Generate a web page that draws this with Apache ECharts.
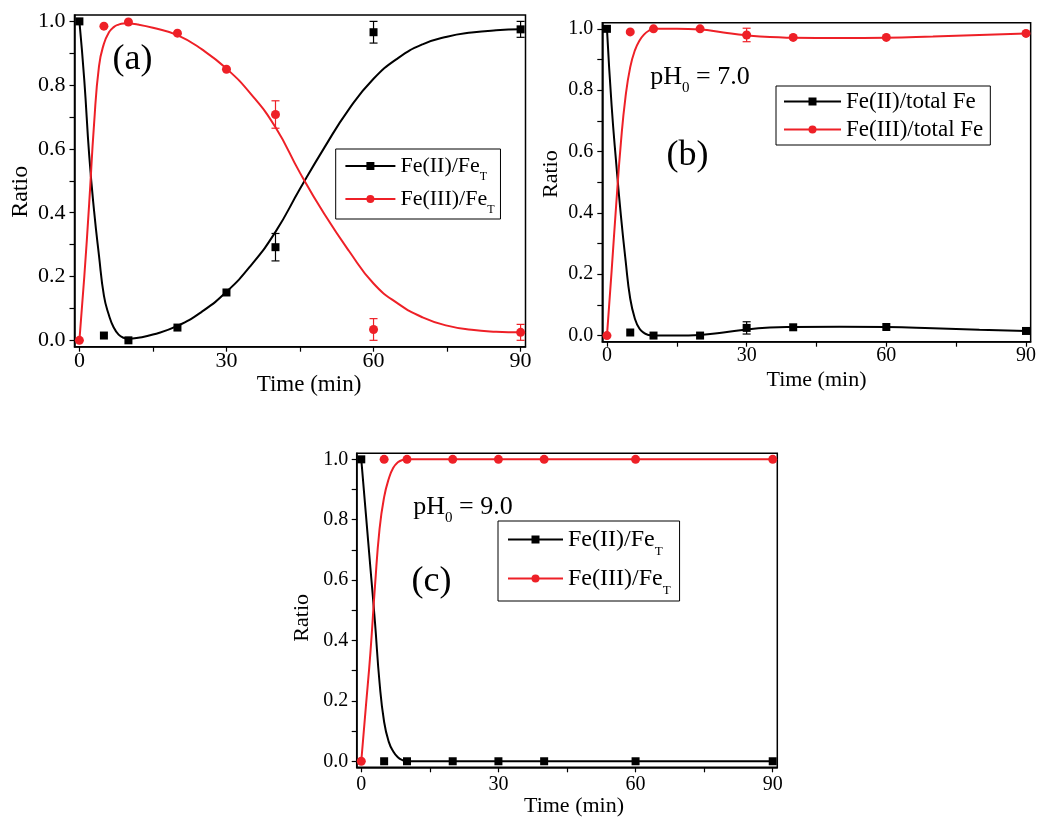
<!DOCTYPE html>
<html><head><meta charset="utf-8">
<script src="https://cdn.jsdelivr.net/npm/echarts@6/dist/echarts.min.js"></script>
<style>html,body{margin:0;padding:0;background:#fff}#c{width:1039px;height:819px}</style>
</head><body><div id="c"></div>
<script>
// ---------------- data ----------------
const xTickValues = [0, 15, 30, 45, 60, 75, 90];
const xLabelValues = [0, 30, 60, 90];
const yTickValues = [0, 0.1, 0.2, 0.3, 0.4, 0.5, 0.6, 0.7, 0.8, 0.9, 1.0];
const yLabelValues = [0, 0.2, 0.4, 0.6, 0.8, 1.0];

// panel (a)
const timeA = [0, 5, 10, 20, 30, 40, 60, 90];
const fe2A = [1.0, 0.015, 0.0, 0.04, 0.15, 0.292, 0.966, 0.975];
const fe2ErrA = [0, 0, 0, 0, 0, 0.043, 0.034, 0.025];
const fe3A = [0.0, 0.985, 0.998, 0.963, 0.85, 0.708, 0.034, 0.025];
const fe3ErrA = [0, 0, 0, 0, 0, 0.043, 0.034, 0.025];
const fitTimeA = [0, 1, 2, 3, 4, 5, 6, 7, 8, 9, 10, 12, 15, 20, 25, 30, 35, 40, 45, 50, 55, 60, 65, 70, 75, 80, 85, 90];
const fitFe2A = [1.0, 0.815, 0.58, 0.405, 0.265, 0.14, 0.08, 0.04, 0.018, 0.008, 0.005, 0.008, 0.018, 0.045, 0.09, 0.152, 0.235, 0.34, 0.475, 0.605, 0.725, 0.82, 0.885, 0.928, 0.952, 0.965, 0.972, 0.975];
const fitFe3A = [0.0, 0.2, 0.43, 0.68, 0.86, 0.93, 0.965, 0.982, 0.99, 0.993, 0.993, 0.99, 0.98, 0.957, 0.912, 0.852, 0.772, 0.668, 0.525, 0.395, 0.28, 0.178, 0.115, 0.072, 0.046, 0.033, 0.027, 0.025];

// panel (b)
const timeB = [0, 5, 10, 20, 30, 40, 60, 90];
const fe2B = [1.0, 0.01, 0.0, 0.0, 0.025, 0.027, 0.028, 0.015];
const fe2ErrB = [0, 0, 0, 0, 0.02, 0, 0, 0];
const fe3B = [0.0, 0.99, 1.0, 1.0, 0.98, 0.972, 0.972, 0.985];
const fe3ErrB = [0, 0, 0, 0, 0.022, 0, 0, 0];
const fitTimeB = [0, 1, 2, 3, 4, 5, 6, 7, 8, 9, 10, 15, 20, 25, 30, 35, 40, 50, 60, 70, 80, 90];
const fitFe2B = [1.0, 0.75, 0.56, 0.39, 0.245, 0.12, 0.055, 0.022, 0.008, 0.002, 0.0, 0.0, 0.002, 0.01, 0.02, 0.026, 0.028, 0.029, 0.028, 0.024, 0.019, 0.015];
const fitFe3B = [0.0, 0.21, 0.43, 0.63, 0.78, 0.875, 0.93, 0.962, 0.982, 0.994, 1.0, 1.0, 0.998, 0.988, 0.979, 0.973, 0.971, 0.97, 0.971, 0.975, 0.98, 0.985];

// panel (c)
const timeC = [0, 5, 10, 20, 30, 40, 60, 90];
const fe2C = [1.0, 0.0, 0.0, 0.0, 0.0, 0.0, 0.0, 0.0];
const fe2ErrC = [0, 0, 0, 0, 0, 0, 0, 0];
const fe3C = [0.0, 1.0, 1.0, 1.0, 1.0, 1.0, 1.0, 1.0];
const fe3ErrC = [0, 0, 0, 0, 0, 0, 0, 0];
const fitTimeC = [0, 1, 2, 3, 4, 5, 6, 7, 8, 9, 10, 20, 30, 40, 60, 90];
const fitFe2C = [1.0, 0.82, 0.64, 0.46, 0.26, 0.13, 0.065, 0.032, 0.013, 0.004, 0.0, 0, 0, 0, 0, 0];
const fitFe3C = [0.0, 0.18, 0.36, 0.58, 0.77, 0.875, 0.935, 0.972, 0.99, 0.998, 1.0, 1, 1, 1, 1, 1];

const namesA = ['Fe(II)/FeT', 'Fe(III)/FeT'];
const namesB = ['Fe(II)/total Fe', 'Fe(III)/total Fe'];
const namesC = ['Fe(II)/FeT', 'Fe(III)/FeT'];

// ---------------- style / layout ----------------
const FF = '"Liberation Serif", "Times New Roman", serif';
const BLACK = '#000000';
const RED = '#ee2027';

const panels = [
  { t: timeA, f2: fe2A, e2: fe2ErrA, f3: fe3A, e3: fe3ErrA, ft: fitTimeA, c2: fitFe2A, c3: fitFe3A, names: namesA,
    grid: { left: 74.5, right: 513.5, top: 15, bottom: 472.3 },
    tickFs: 22, xNameFs: 23, yNameFs: 24, xNameGap: 23, xNamePad: [0, 0, 0, 18], yNameGap: 42, yNamePad: [0, 22, 0, 0],
    xLabelMargin: 4, yLabelMargin: 9,
    legend: { left: 335.7, top: 149, fs: 22, itemWidth: 50, padding: [0, 6, 3, 8.7], itemGap: -1, sub: true } },
  { t: timeB, f2: fe2B, e2: fe2ErrB, f3: fe3B, e3: fe3ErrB, ft: fitTimeB, c2: fitFe2B, c3: fitFe3B, names: namesB,
    grid: { left: 602.3, right: 3.3, top: 22.7, bottom: 477.3 },
    tickFs: 20, xNameFs: 22, yNameFs: 22, xNameGap: 28, xNamePad: [0, 0, 0, 0], yNameGap: 40, yNamePad: [0, 0, 0, 16],
    xLabelMargin: 4, yLabelMargin: 9,
    legend: { left: 776, top: 86, fs: 23, itemWidth: 57, padding: [4, 7, 4, 7], itemGap: 5, sub: false } },
  { t: timeC, f2: fe2C, e2: fe2ErrC, f3: fe3C, e3: fe3ErrC, ft: fitTimeC, c2: fitFe2C, c3: fitFe3C, names: namesC,
    grid: { left: 356.7, right: 261.7, top: 453.3, bottom: 51.7 },
    tickFs: 20, xNameFs: 22, yNameFs: 22, xNameGap: 26, xNamePad: [0, 0, 0, 14], yNameGap: 43, yNamePad: [0, 15, 0, 0],
    xLabelMargin: 7, yLabelMargin: 8.5,
    legend: { left: 498, top: 521, fs: 24, itemWidth: 55, padding: [0, 9, 4, 9], itemGap: 2, sub: true } }
];

function richFor(fs) {
  const sfs = Math.round(fs * 0.55);
  const P = Math.round(fs * 1.0);
  return {
    m: { fontFamily: FF, fontSize: fs, color: '#000', lineHeight: fs + 2 },
    s: { fontFamily: FF, fontSize: sfs, color: '#000', lineHeight: sfs + 1, padding: [P, 0, 0, 0] }
  };
}
function labelRich(name) {
  if (name.endsWith('FeT')) return '{m|' + name.slice(0, -1) + '}{s|T}';
  return '{m|' + name + '}';
}

const option = {
  animation: false,
  backgroundColor: '#ffffff',
  grid: [], xAxis: [], yAxis: [], series: [], legend: [], graphic: []
};

panels.forEach((p, i) => {
  option.grid.push(Object.assign({ show: true, borderColor: '#000', borderWidth: 1.5, backgroundColor: 'transparent', containLabel: false }, p.grid));
  option.xAxis.push({
    gridIndex: i, type: 'value', min: -1, max: 91,
    name: 'Time (min)', nameLocation: 'middle', nameGap: p.xNameGap,
    nameTextStyle: { fontFamily: FF, fontSize: p.xNameFs, color: '#000', padding: p.xNamePad },
    axisLine: { show: true, onZero: false, lineStyle: { color: '#000', width: 1.5 } },
    axisTick: { show: true, inside: false, length: 5, customValues: xTickValues, lineStyle: { color: '#000', width: 1.2 } },
    axisLabel: { customValues: xLabelValues, margin: p.xLabelMargin, fontFamily: FF, fontSize: p.tickFs, color: '#000', formatter: v => String(Math.round(v)) },
    splitLine: { show: false }
  });
  option.yAxis.push({
    gridIndex: i, type: 'value', min: -0.02, max: 1.02,
    name: 'Ratio', nameLocation: 'middle', nameGap: p.yNameGap, nameRotate: 90,
    nameTextStyle: { fontFamily: FF, fontSize: p.yNameFs, color: '#000', padding: p.yNamePad },
    axisLine: { show: true, onZero: false, lineStyle: { color: '#000', width: 1.5 } },
    axisTick: { show: true, inside: false, length: 5, customValues: yTickValues, lineStyle: { color: '#000', width: 1.2 } },
    axisLabel: { customValues: yLabelValues, margin: p.yLabelMargin, fontFamily: FF, fontSize: p.tickFs, color: '#000', formatter: v => v.toFixed(1) },
    splitLine: { show: false }
  });

  const fit = (ys) => p.ft.map((x, k) => [x, ys[k]]);
  const pts = (ys) => p.t.map((x, k) => [x, ys[k]]);
  const errs = (ys, es) => p.t.map((x, k) => [x, ys[k] - es[k], ys[k] + es[k]]).filter((d, k) => es[k] > 0);

  // fitted curves (legend entries)
  option.series.push({
    type: 'line', name: p.names[0], xAxisIndex: i, yAxisIndex: i, data: fit(p.c2),
    smooth: 0.5, showSymbol: false, symbol: 'rect', symbolSize: 8,
    lineStyle: { color: BLACK, width: 2 }, itemStyle: { color: BLACK }, z: 2, silent: true
  });
  option.series.push({
    type: 'line', name: p.names[1], xAxisIndex: i, yAxisIndex: i, data: fit(p.c3),
    smooth: 0.5, showSymbol: false, symbol: 'circle', symbolSize: 8,
    lineStyle: { color: RED, width: 2 }, itemStyle: { color: RED }, z: 2, silent: true
  });
  // error bars
  const errColors = [BLACK, RED];
  [errs(p.f2, p.e2), errs(p.f3, p.e3)].forEach((ed, j) => {
    if (!ed.length) return;
    option.series.push({
      type: 'custom', name: 'err' + i + j, xAxisIndex: i, yAxisIndex: i, data: ed, z: 3, silent: true,
      renderItem: (params, api) => {
        const x = api.value(0);
        const lo = api.coord([x, api.value(1)]);
        const hi = api.coord([x, api.value(2)]);
        const w = 4;
        const st = { stroke: errColors[j], lineWidth: 1.2 };
        return { type: 'group', children: [
          { type: 'line', shape: { x1: lo[0], y1: lo[1], x2: hi[0], y2: hi[1] }, style: st },
          { type: 'line', shape: { x1: lo[0] - w, y1: lo[1], x2: lo[0] + w, y2: lo[1] }, style: st },
          { type: 'line', shape: { x1: hi[0] - w, y1: hi[1], x2: hi[0] + w, y2: hi[1] }, style: st }
        ]};
      }
    });
  });
  // measured points
  option.series.push({
    type: 'scatter', name: 'pts2_' + i, xAxisIndex: i, yAxisIndex: i, data: pts(p.f2),
    symbol: 'rect', symbolSize: 8, itemStyle: { color: BLACK, opacity: 1 }, z: 4, silent: true
  });
  option.series.push({
    type: 'scatter', name: 'pts3_' + i, xAxisIndex: i, yAxisIndex: i, data: pts(p.f3),
    symbol: 'circle', symbolSize: 9, itemStyle: { color: RED, opacity: 1 }, z: 4, silent: true
  });

  const L = p.legend;
  option.legend.push({
    data: p.names, orient: 'vertical', left: L.left, top: L.top, padding: L.padding,
    itemWidth: L.itemWidth, itemHeight: 10, itemGap: L.itemGap, selectedMode: false,
    borderColor: '#000', borderWidth: 1, backgroundColor: '#fff', z: 10,
    formatter: labelRich,
    textStyle: { fontFamily: FF, fontSize: L.fs, color: '#000', rich: richFor(L.fs) }
  });
});

function pHText(x, y, val) {
  return {
    type: 'text', x: x, y: y, z: 20,
    style: {
      text: '{m|pH}{s|0}{m| = ' + val + '}', textAlign: 'center', textVerticalAlign: 'middle',
      rich: {
        m: { fontFamily: FF, fontSize: 26, fill: '#000', lineHeight: 28 },
        s: { fontFamily: FF, fontSize: 15, fill: '#000', lineHeight: 16, padding: [23, 0, 0, 0] }
      }
    }
  };
}
function tagText(x, y, t) {
  return { type: 'text', x: x, y: y, z: 20,
    style: { text: t, textAlign: 'center', textVerticalAlign: 'middle', fontFamily: FF, fontSize: 36, fill: '#000' } };
}
option.graphic = [
  tagText(132.5, 60, '(a)'),
  tagText(687.5, 156, '(b)'),
  tagText(431.5, 582, '(c)'),
  pHText(700, 77, '7.0'),
  pHText(463, 507, '9.0')
];

const chart = echarts.init(document.getElementById('c'), null, { renderer: 'canvas' });
chart.setOption(option);
</script>
</body></html>
